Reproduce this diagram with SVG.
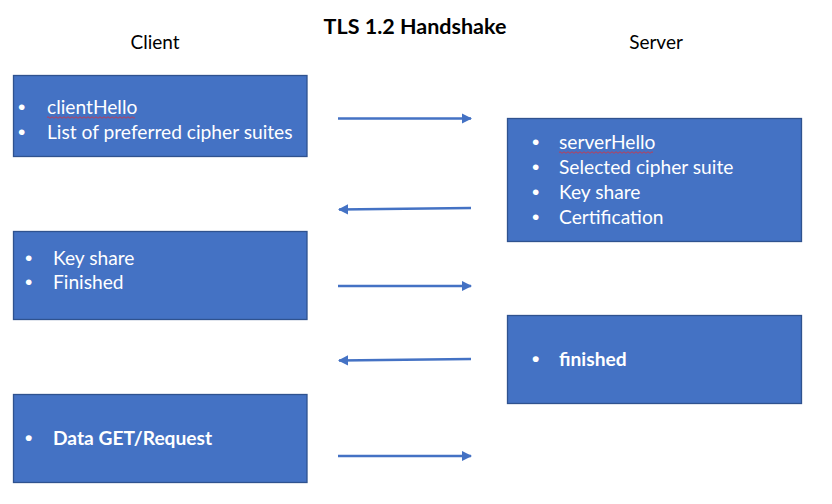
<svg xmlns="http://www.w3.org/2000/svg" width="832" height="504" viewBox="0 0 832 504">
<defs>
<style>
.box{fill:#4472C4;stroke:#2F528F;stroke-width:1.3}
.t{font-family:Lato,"Open Sans","Liberation Sans",sans-serif;font-size:19.2px;fill:#ffffff}
.bl{font-family:"Liberation Sans",sans-serif;font-size:21px;fill:#ffffff}
.b{font-weight:bold}
.h{font-family:Lato,"Open Sans","Liberation Sans",sans-serif;font-size:19px;fill:#000000}
.title{font-size:21.5px}
.conn{stroke:#4472C4;stroke-width:2.5;fill:none;marker-end:url(#ah)}
.sq{stroke:#E0303A;stroke-width:0.8;fill:none}
</style>
<marker id="ah" viewBox="0 0 10 10" refX="9" refY="5" markerWidth="4.2" markerHeight="4.2" orient="auto" markerUnits="strokeWidth">
<path d="M0,0 L10,5 L0,10 Z" fill="#4472C4"/>
</marker>
</defs>
<rect width="832" height="504" fill="#ffffff"/>
<text class="h b title" x="415" y="34" text-anchor="middle">TLS 1.2 Handshake</text>
<text class="h" x="155" y="49" text-anchor="middle">Client</text>
<text class="h" x="656" y="49" text-anchor="middle">Server</text>

<g id="client-hello">
<rect class="box" x="13.5" y="75.5" width="293.5" height="81"/>
<text class="bl" x="18" y="114">•</text>
<text class="t" x="47" y="113.5">clientHello</text>
<path class="sq" d="M47,117.5 q1,-1.5 2,0 t2,0 t2,0 t2,0 t2,0 t2,0 t2,0 t2,0 t2,0 t2,0 t2,0 t2,0 t2,0 t2,0 t2,0 t2,0 t2,0 t2,0 t2,0 t2,0 t2,0 t2,0 t2,0 t2,0 t2,0 t2,0 t2,0 t2,0 t2,0 t2,0 t2,0 t2,0 t2,0 t2,0 t2,0 t2,0 t2,0 t2,0 t2,0 t2,0 t2,0 t2,0 t2,0 t2,0"/>
<text class="bl" x="18" y="139">•</text>
<text class="t" x="47" y="138.5">List of preferred cipher suites</text>
</g>

<g id="server-hello">
<rect class="box" x="507.5" y="118.5" width="294" height="123"/>
<text class="bl" x="532" y="149">•</text>
<text class="t" x="559" y="148.5">serverHello</text>
<path class="sq" d="M559,152.5 q1,-1.5 2,0 t2,0 t2,0 t2,0 t2,0 t2,0 t2,0 t2,0 t2,0 t2,0 t2,0 t2,0 t2,0 t2,0 t2,0 t2,0 t2,0 t2,0 t2,0 t2,0 t2,0 t2,0 t2,0 t2,0 t2,0 t2,0 t2,0 t2,0 t2,0 t2,0 t2,0 t2,0 t2,0 t2,0 t2,0 t2,0 t2,0 t2,0 t2,0 t2,0 t2,0 t2,0 t2,0 t2,0 t2,0 t2,0 t2,0"/>
<text class="bl" x="532" y="174">•</text>
<text class="t" x="559" y="173.5">Selected cipher suite</text>
<text class="bl" x="532" y="199">•</text>
<text class="t" x="559" y="198.5">Key share</text>
<text class="bl" x="532" y="224">•</text>
<text class="t" x="559" y="223.5">Certification</text>
</g>

<g id="client-keyshare">
<rect class="box" x="13.5" y="231.5" width="293.5" height="88"/>
<text class="bl" x="25" y="265">•</text>
<text class="t" x="53" y="264.5">Key share</text>
<text class="bl" x="25" y="289">•</text>
<text class="t" x="53" y="288.5">Finished</text>
</g>

<g id="server-finished">
<rect class="box" x="507.5" y="315.5" width="294" height="88"/>
<text class="bl b" x="532" y="366">•</text>
<text class="t b" x="559" y="365.5">finished</text>
</g>

<g id="client-data">
<rect class="box" x="13.5" y="394.5" width="293.5" height="88"/>
<text class="bl b" x="25" y="445">•</text>
<text class="t b" x="53" y="444.5">Data GET/Request</text>
</g>

<g id="connectors">
<line class="conn" x1="338" y1="118.5" x2="471" y2="118.5"/>
<line class="conn" x1="471" y1="208" x2="339" y2="209.5"/>
<line class="conn" x1="338" y1="286" x2="471" y2="286"/>
<line class="conn" x1="471" y1="359" x2="339" y2="360.5"/>
<line class="conn" x1="338" y1="456" x2="471" y2="456"/>
</g>
</svg>
